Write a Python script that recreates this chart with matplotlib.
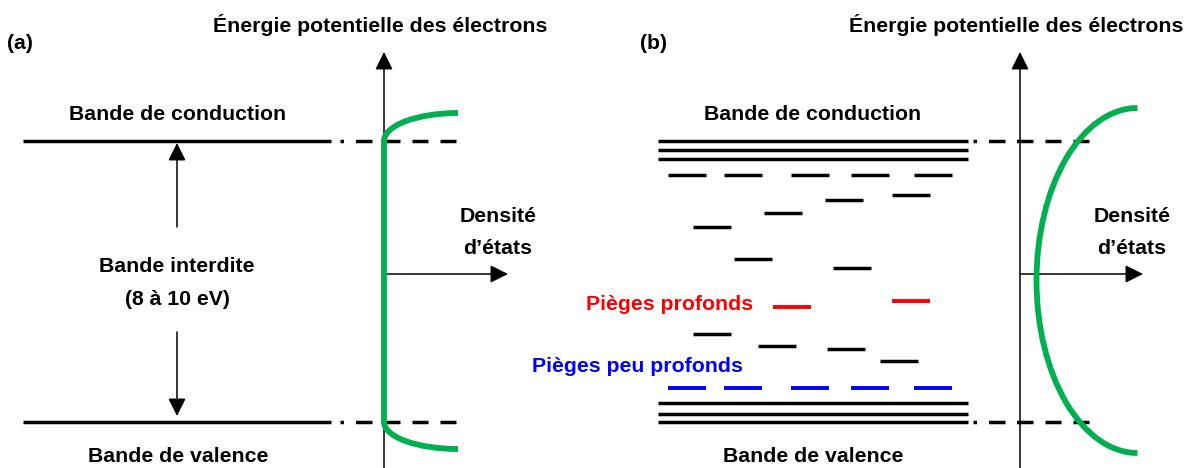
import matplotlib
matplotlib.use('Agg')
import matplotlib.pyplot as plt
from matplotlib.patches import Arc

plt.rcParams['font.family'] = ['Liberation Sans', 'DejaVu Sans']
plt.rcParams['lines.scale_dashes'] = False

# -------------------------------------------------------
# DONNEES (coordonnees du schema, en pixels, y vers le bas)
# -------------------------------------------------------
# (a) isolant ideal : une bande de conduction, une bande de valence
bands_a = [141, 422]
# (b) isolant reel : bandes elargies
bands_b_cond = [141, 150, 159]
bands_b_val = [403, 414, 422]
# rangees de pieges pres des bandes (debut de chaque tiret)
row_x = [668, 724, 791, 851, 914]
row_top_y = 175          # pieges noirs sous la bande de conduction
row_shallow_y = 388      # pieges peu profonds (bleus)
# pieges isoles : (x debut, niveau)
traps_black = [(825, 200), (892, 195), (764, 213), (693, 227), (734, 259),
               (833, 268), (693, 334), (758, 346), (827, 349), (880, 361)]
traps_red = [(773, 307), (892, 301)]
trap_len = 38

GREEN = '#00B050'
FS = 15.3
TXT = dict(fontsize=FS, fontweight='bold', va='baseline')

fig = plt.figure(figsize=(11.88, 4.68), dpi=100)
ax = fig.add_axes([0, 0, 1, 1])
ax.set_xlim(0, 1188)
ax.set_ylim(468, 0)
ax.axis('off')

# motif tiret-point a droite des bandes (en points)
px = 0.72
dash_pat = [v * px for v in (3.5, 12, 16.5, 11.5, 16.5, 12, 16, 12, 16, 300)]


def arrow(x0, y0, x1, y1):
    ax.annotate('', xy=(x1, y1), xytext=(x0, y0),
                arrowprops=dict(arrowstyle='-|>,head_length=0.4,head_width=0.2',
                                mutation_scale=27, lw=1.1, color='black',
                                shrinkA=0, shrinkB=0), zorder=3)


# -------------------------------------------------------
# PANNEAU (a)
# -------------------------------------------------------
for y in bands_a:
    ax.plot([23, 331], [y, y], color='black', lw=2.5, solid_capstyle='butt')
    ln, = ax.plot([340, 456], [y, y], color='black', lw=2.5,
                  dash_capstyle='butt')
    ln.set_dashes(dash_pat)

arrow(384, 468, 384, 52)
arrow(384, 274, 508, 274)

ax.plot([384, 384], [bands_a[0], bands_a[1]], color=GREEN, lw=4.2,
        solid_capstyle='butt', zorder=5)
ax.add_patch(Arc((458, bands_a[0]), 148, 56, theta1=180, theta2=270,
                 color=GREEN, lw=4.2, zorder=5))
ax.add_patch(Arc((458, bands_a[1]), 148, 54, theta1=90, theta2=180,
                 color=GREEN, lw=4.2, zorder=5))

arrow(177, 227, 177, 143)
arrow(177, 332, 177, 416)

ax.text(7, 49, '(a)', ha='left', **TXT)
ax.text(380, 32, 'Énergie potentielle des électrons', ha='center', **TXT)
ax.text(178, 120, 'Bande de conduction', ha='center', **TXT)
ax.text(177, 272, 'Bande interdite', ha='center', **TXT)
ax.text(177, 305, '(8 à 10 eV)', ha='center', **TXT)
ax.text(178, 462, 'Bande de valence', ha='center', **TXT)
ax.text(498, 222, 'Densité', ha='center', **TXT)
ax.text(498, 254, 'd’états', ha='center', **TXT)

# -------------------------------------------------------
# PANNEAU (b)
# -------------------------------------------------------
for y in bands_b_cond + bands_b_val:
    ax.plot([658, 968], [y, y], color='black', lw=2.5, solid_capstyle='butt')
for y in (bands_b_cond[0], bands_b_val[-1]):
    ln, = ax.plot([973, 1091], [y, y], color='black', lw=2.5,
                  dash_capstyle='butt')
    ln.set_dashes(dash_pat)

for x in row_x:
    ax.plot([x, x + trap_len], [row_top_y, row_top_y], color='black',
            lw=2.5, solid_capstyle='butt')
    ax.plot([x, x + trap_len], [row_shallow_y, row_shallow_y], color='#0000FF',
            lw=2.8, solid_capstyle='butt')
for x, y in traps_black:
    ax.plot([x, x + trap_len], [y, y], color='black', lw=2.5,
            solid_capstyle='butt')
for x, y in traps_red:
    ax.plot([x, x + trap_len], [y, y], color='#FF0000', lw=2.8,
            solid_capstyle='butt')

arrow(1020, 468, 1020, 52)
arrow(1020, 274, 1143, 274)

ax.add_patch(Arc((1137.5, 280.5), 202, 345, theta1=90, theta2=270,
                 color=GREEN, lw=4.2, zorder=5))

ax.text(640, 49, '(b)', ha='left', **TXT)
ax.text(1016, 32, 'Énergie potentielle des électrons', ha='center', **TXT)
ax.text(813, 120, 'Bande de conduction', ha='center', **TXT)
ax.text(813, 462, 'Bande de valence', ha='center', **TXT)
ax.text(1132, 222, 'Densité', ha='center', **TXT)
ax.text(1132, 254, 'd’états', ha='center', **TXT)
ax.text(670, 310, 'Pièges profonds', ha='center', color='#FF0000',
        fontsize=FS, fontweight='bold', va='baseline')
ax.text(637, 372, 'Pièges peu profonds', ha='center', color='#0000FF',
        fontsize=FS, fontweight='bold', va='baseline')

plt.savefig('out.png', dpi=100)
plt.close()
